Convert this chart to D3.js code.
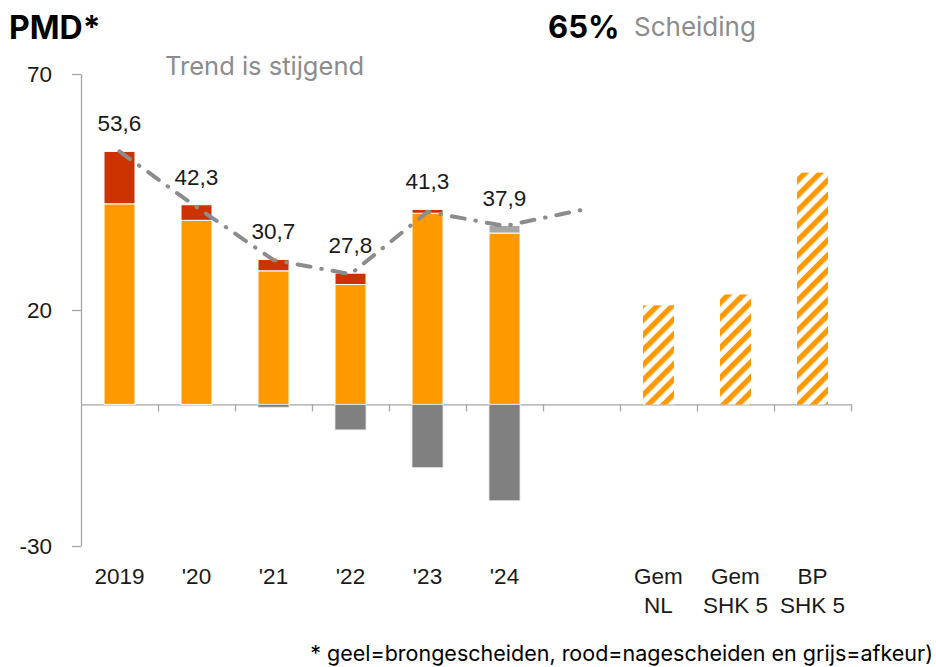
<!DOCTYPE html>
<html>
<head>
<meta charset="utf-8">
<script src="https://cdn.jsdelivr.net/npm/d3@7"></script>
<style>
  body { margin: 0; background: #fff; }
  svg { display: block; }
</style>
</head>
<body>
<svg id="chart" width="936" height="667"></svg>
<script>
//chart values
var years = ["2019", "'20", "'21", "'22", "'23", "'24"];
	bronValues = [42.5, 39.0, 28.3, 25.4, 40.5, 36.3];	//geel
	naValues = [11.1, 3.3, 2.4, 2.4, 0.8, 0];		//rood
	topGreyValues = [0, 0, 0, 0, 0, 1.6];			//light grey cap on '24
	afkeurValues = [0, 0, -0.6, -5.4, -13.4, -20.4];	//grijs
	totalLabels = ["53,6", "42,3", "30,7", "27,8", "41,3", "37,9"];
	trendValues = [53.6, 41.8, 30.6, 27.6, 40.8, 37.8, 41.2];	//last point sits in the empty slot
	benchNames = [["Gem", "NL"], ["Gem", "SHK 5"], ["BP", "SHK 5"]];
	benchValues = [21.0, 23.3, 49.1];
	yTicks = [70, 20, -30];

var orange = "#ff9900"
	red = "#cc3300"
	darkGrey = "#808080"
	lightGrey = "#a6a6a6"
	axisColor = "#a6a6a6"
	labelFont = "'Liberation Sans', Arial, sans-serif"
	textFont = "Inter, 'Noto Sans', sans-serif"
	labelSize = 22.5

var svg = d3.select("#chart");

//all slots on the x axis: years, one empty slot, then the benchmarks
var slots = years.concat([""]).concat(benchNames.map(function(d){ return d.join(" "); }));

var x = d3.scaleBand()
	.domain(slots)
	.range([81, 851])
	.padding(0);
var barW = 31;
var cx = function(i){ return x(slots[i]) + x.bandwidth()/2; };

var y = d3.scaleLinear()
	.domain([-30, 70])
	.range([546, 74]);

//hatch pattern for the benchmark bars
var defs = svg.append("defs");
var pat = defs.append("pattern")
	.attr("id", "hatch")
	.attr("patternUnits", "userSpaceOnUse")
	.attr("width", 10.6)
	.attr("height", 10.6)
	.attr("patternTransform", "rotate(45)");
pat.append("rect").attr("width", 10.6).attr("height", 10.6).attr("fill", "#fff");
pat.append("rect").attr("width", 5.3).attr("height", 10.6).attr("fill", orange);

//		==AXES==
var yAxis = d3.axisLeft(y)
	.tickValues(yTicks)
	.tickSize(9)
	.tickPadding(20)
	.tickSizeOuter(0)
	.tickFormat(function(d){ return String(d); });	//plain hyphen for -30

var gy = svg.append("g")
	.attr("transform", "translate(81,0)")
	.call(yAxis);
gy.select(".domain").attr("stroke", axisColor).attr("stroke-width", 1.3);
gy.selectAll(".tick line").attr("stroke", axisColor).attr("stroke-width", 1.3);
gy.selectAll(".tick text")
	.attr("font-family", labelFont)
	.attr("font-size", labelSize)
	.attr("fill", "#1a1a1a");

//x axis through zero, ticks on slot boundaries
var xEdge = d3.scaleLinear().domain([0, slots.length]).range(x.range());
var xAxis = d3.axisBottom(xEdge)
	.tickValues(d3.range(1, slots.length + 1))
	.tickSize(7)
	.tickSizeOuter(0)
	.tickFormat("");
var gx = svg.append("g")
	.attr("transform", "translate(0," + y(0) + ")")
	.call(xAxis);
gx.select(".domain").attr("stroke", axisColor).attr("stroke-width", 1.3);
gx.selectAll(".tick line").attr("stroke", axisColor).attr("stroke-width", 1.3);

//		==BARS==
var bars = svg.append("g");

//stacked positives: orange, red, light grey cap
years.forEach(function(yr, i){
	var base = 0;
	[[bronValues[i], orange], [naValues[i], red], [topGreyValues[i], lightGrey]].forEach(function(seg){
		if (seg[0] > 0){
			bars.append("rect")
				.attr("x", cx(i) - barW/2)
				.attr("y", y(base + seg[0]))
				.attr("width", barW)
				.attr("height", y(base) - y(base + seg[0]))
				.attr("fill", seg[1])
				.attr("stroke", "#fff")
				.attr("stroke-width", 1);
			base += seg[0];
		}
	});
	if (afkeurValues[i] < 0){
		bars.append("rect")
			.attr("x", cx(i) - barW/2)
			.attr("y", y(0))
			.attr("width", barW)
			.attr("height", y(afkeurValues[i]) - y(0))
			.attr("fill", darkGrey)
			.attr("stroke", "#e6e6e6")
			.attr("stroke-width", 0.8);
	}
});

//hatched benchmark bars
bars.selectAll(".bench")
	.data(benchValues)
	.enter().append("rect")
	.attr("class", "bench")
	.attr("x", function(d, i){ return cx(years.length + 1 + i) - barW/2; })
	.attr("y", function(d){ return y(d); })
	.attr("width", barW)
	.attr("height", function(d){ return y(0) - y(d); })
	.attr("fill", "url(#hatch)");

//		==TREND LINE==
var line = d3.line()
	.x(function(d, i){ return cx(i); })
	.y(function(d){ return y(d); });

svg.append("path")
	.datum(trendValues)
	.attr("d", line)
	.attr("fill", "none")
	.attr("stroke", "#8c8c8c")
	.attr("stroke-width", 4)
	.attr("stroke-linecap", "round")
	.attr("stroke-dasharray", "13 11 0.5 11");

//value labels above the bars
svg.selectAll(".val")
	.data(totalLabels)
	.enter().append("text")
	.attr("class", "val")
	.attr("x", function(d, i){ return cx(i); })
	.attr("y", function(d, i){ return y(bronValues[i] + naValues[i] + topGreyValues[i]) - 20; })
	.attr("text-anchor", "middle")
	.attr("font-family", labelFont)
	.attr("font-size", labelSize)
	.attr("fill", "#1a1a1a")
	.text(function(d){ return d; });

//category labels
svg.selectAll(".yr")
	.data(years)
	.enter().append("text")
	.attr("class", "yr")
	.attr("x", function(d, i){ return cx(i); })
	.attr("y", 584)
	.attr("text-anchor", "middle")
	.attr("font-family", labelFont)
	.attr("font-size", labelSize)
	.attr("fill", "#1a1a1a")
	.text(function(d){ return d; });

benchNames.forEach(function(lines, i){
	lines.forEach(function(t, k){
		svg.append("text")
			.attr("x", cx(years.length + 1 + i))
			.attr("y", 584 + k * 29)
			.attr("text-anchor", "middle")
			.attr("font-family", labelFont)
			.attr("font-size", labelSize)
			.attr("fill", "#1a1a1a")
			.text(t);
	});
});

//		==TITLES AND NOTES==
svg.append("text")
	.attr("x", 9).attr("y", 39)
	.attr("font-family", textFont)
	.attr("font-weight", "bold")
	.attr("font-size", 32)
	.attr("fill", "#000")
	.text("PMD*");

svg.append("text")
	.attr("x", 165).attr("y", 75)
	.attr("font-family", textFont)
	.attr("font-size", 25.5)
	.attr("fill", "#8c8c8c")
	.text("Trend is stijgend");

svg.append("text")
	.attr("x", 548).attr("y", 38)
	.attr("font-family", textFont)
	.attr("font-weight", "bold")
	.attr("font-size", 31)
	.attr("fill", "#000")
	.text("65%");

svg.append("text")
	.attr("x", 634).attr("y", 36)
	.attr("font-family", textFont)
	.attr("font-size", 26)
	.attr("fill", "#8c8c8c")
	.text("Scheiding");

svg.append("text")
	.attr("x", 933).attr("y", 661)
	.attr("text-anchor", "end")
	.attr("font-family", textFont)
	.attr("font-size", 21.5)
	.attr("fill", "#000")
	.text("* geel=brongescheiden, rood=nagescheiden en grijs=afkeur)");
</script>
</body>
</html>
